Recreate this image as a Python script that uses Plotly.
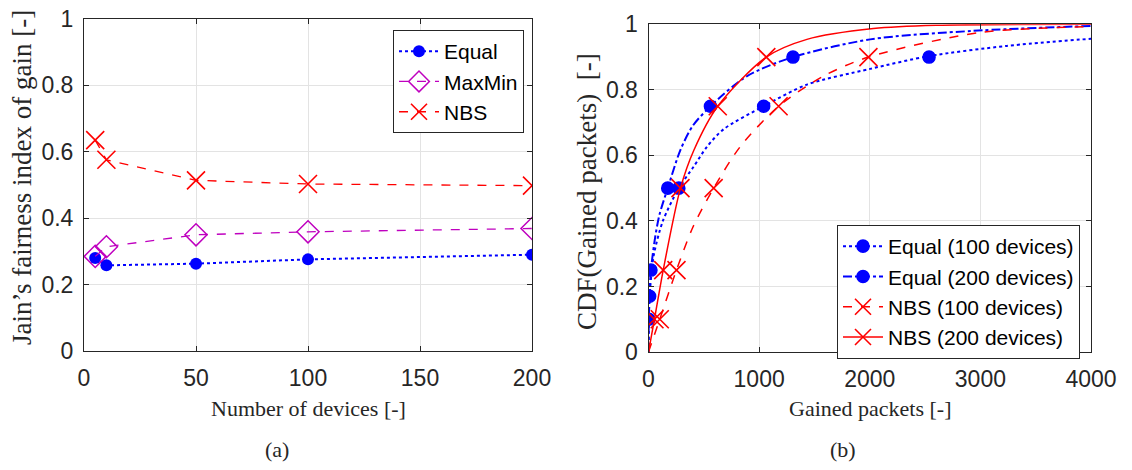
import plotly.graph_objects as go

# ---------------- data: panel (a) ----------------
devices = [5, 10, 50, 100, 200]
fair_equal = [0.280, 0.258, 0.263, 0.276, 0.290]
fair_maxmin = [0.285, 0.314, 0.350, 0.359, 0.369]
fair_nbs = [0.635, 0.576, 0.514, 0.503, 0.498]

# ---------------- data: panel (b) ----------------
# curves (gained packets, CDF)
eq100_x = [0, 4, 10, 30, 50, 130, 274, 409, 530, 680, 1041, 1432, 2004, 2536, 3237, 4000]
eq100_y = [0, 0.10, 0.17, 0.25, 0.30, 0.40, 0.50, 0.566, 0.627, 0.680, 0.75, 0.816, 0.864, 0.903, 0.934, 0.956]
eq200_x = [0, 3, 8, 22, 60, 100, 174, 289, 400, 560, 891, 1306, 2004, 2936, 4000]
eq200_y = [0, 0.10, 0.17, 0.25, 0.35, 0.42, 0.50, 0.617, 0.69, 0.75, 0.842, 0.90, 0.954, 0.980, 0.995]
nbs100_x = [0, 102, 253, 400, 589, 830, 1176, 1582, 1988, 3000, 4000]
nbs100_y = [0, 0.10, 0.25, 0.38, 0.50, 0.627, 0.75, 0.842, 0.90, 0.975, 0.993]
nbs200_x = [0, 54, 133, 289, 409, 626, 1065, 1432, 2034, 2600, 4000]
nbs200_y = [0, 0.10, 0.25, 0.50, 0.615, 0.75, 0.90, 0.954, 0.987, 0.997, 1.0]

# marker positions
eq100_mx = [10, 274, 1041, 2536]
eq100_my = [0.17, 0.50, 0.75, 0.90]
eq200_mx = [3, 22, 174, 560, 1306]
eq200_my = [0.10, 0.25, 0.50, 0.75, 0.90]
nbs100_mx = [102, 253, 589, 1176, 1988]
nbs100_my = [0.10, 0.25, 0.50, 0.75, 0.90]
nbs200_mx = [54, 133, 289, 626, 1065]
nbs200_my = [0.10, 0.25, 0.50, 0.75, 0.90]

BLUE = "#0000ff"
RED = "#ff0000"
MAG = "#bf00bf"
AX = "#262626"
GRID = "#e3e3e3"
SANS = "Liberation Sans, Arial, sans-serif"
SERIF = "Liberation Serif, Times New Roman, serif"

W, H = 1132, 470
fig = go.Figure()

# ---- panel (a) ----
fig.add_trace(go.Scatter(x=devices, y=fair_equal, name="Equal", mode="lines+markers",
                         line=dict(color=BLUE, width=2, dash="dot"),
                         marker=dict(symbol="circle", size=12, color=BLUE),
                         xaxis="x", yaxis="y", legend="legend"))
fig.add_trace(go.Scatter(x=devices, y=fair_maxmin, name="MaxMin", mode="lines+markers",
                         line=dict(color=MAG, width=1.3, dash="dash"),
                         marker=dict(symbol="diamond-open", size=17, color=MAG, line=dict(width=1.5)),
                         xaxis="x", yaxis="y", legend="legend"))
fig.add_trace(go.Scatter(x=devices, y=fair_nbs, name="NBS", mode="lines+markers",
                         line=dict(color=RED, width=1.3, dash="dash"),
                         marker=dict(symbol="x-thin-open", size=18, color=RED, line=dict(width=1.6, color=RED)),
                         xaxis="x", yaxis="y", legend="legend"))

# ---- panel (b) ----
series = [
    ("Equal (100 devices)", eq100_x, eq100_y, eq100_mx, eq100_my, BLUE, "dot", 2, "circle", 12),
    ("Equal (200 devices)", eq200_x, eq200_y, eq200_mx, eq200_my, BLUE, "dashdot", 2, "circle", 12),
    ("NBS (100 devices)", nbs100_x, nbs100_y, nbs100_mx, nbs100_my, RED, "dash", 1.5, "x-thin-open", 18),
    ("NBS (200 devices)", nbs200_x, nbs200_y, nbs200_mx, nbs200_my, RED, "solid", 1.5, "x-thin-open", 18),
]
for name, cx, cy, mx, my, col, dash, lw, sym, ms in series:
    mk = dict(symbol=sym, size=ms, color=col, line=dict(width=1.6, color=col))
    fig.add_trace(go.Scatter(x=cx, y=cy, mode="lines", showlegend=False,
                             line=dict(color=col, width=lw, dash=dash, shape="spline", smoothing=0.8),
                             xaxis="x2", yaxis="y2", hoverinfo="skip"))
    fig.add_trace(go.Scatter(x=mx, y=my, mode="markers", showlegend=False, marker=mk,
                             xaxis="x2", yaxis="y2"))
    fig.add_trace(go.Scatter(x=[None], y=[None], mode="lines+markers", name=name,
                             line=dict(color=col, width=lw, dash=dash), marker=mk,
                             xaxis="x2", yaxis="y2", legend="legend2"))

def px_x(p):
    return p / W

def px_y(p):
    return 1 - p / H

axis_common = dict(showline=True, linecolor=AX, linewidth=1, mirror="ticks",
                   ticks="inside", ticklen=5, tickcolor=AX, showgrid=True, gridcolor=GRID,
                   gridwidth=1, zeroline=False, tickfont=dict(family=SANS, size=23, color=AX),
                   exponentformat="none", separatethousands=False, automargin=False)

fig.update_layout(
    width=W, height=H, autosize=False,
    margin=dict(l=0, r=0, t=0, b=0, pad=0),
    paper_bgcolor="white", plot_bgcolor="white",
    xaxis=dict(domain=[px_x(84), px_x(532)], range=[0, 200], dtick=50, anchor="y",
               ticklabelstandoff=6, **axis_common),
    yaxis=dict(domain=[px_y(351), px_y(19)], range=[0, 1], dtick=0.2, anchor="x",
               ticklabelstandoff=5, **axis_common),
    xaxis2=dict(domain=[px_x(648.5), px_x(1091)], range=[0, 4000], dtick=1000, anchor="y2",
                ticklabelstandoff=6, **axis_common),
    yaxis2=dict(domain=[px_y(352), px_y(24.3)], range=[0, 1], dtick=0.2, anchor="x2",
                ticklabelstandoff=5, **axis_common),
    legend=dict(x=px_x(524), y=px_y(30), xanchor="right", yanchor="top",
                bgcolor="white", bordercolor=AX, borderwidth=1, itemwidth=40,
                font=dict(family=SANS, size=21, color="black"), tracegroupgap=0),
    legend2=dict(x=px_x(1080), y=px_y(225), xanchor="right", yanchor="top",
                 bgcolor="white", bordercolor=AX, borderwidth=1, itemwidth=40,
                 font=dict(family=SANS, size=21, color="black"), tracegroupgap=0),
    showlegend=True,
)

ann = [
    dict(text="Number of devices [-]", x=px_x(308), y=px_y(408), size=22, angle=0),
    dict(text="Gained packets [-]", x=px_x(870), y=px_y(408), size=22, angle=0),
    dict(text="(a)", x=px_x(277), y=px_y(449), size=22, angle=0),
    dict(text="(b)", x=px_x(843), y=px_y(449), size=22, angle=0),
    dict(text="Jain\u2019s fairness index of gain [-]", x=px_x(22), y=px_y(178), size=27, angle=-90),
    dict(text="CDF(Gained packets)\u2002[-]", x=px_x(587), y=px_y(192), size=27, angle=-90),
]
for a in ann:
    fig.add_annotation(text=a["text"], x=a["x"], y=a["y"], xref="paper", yref="paper",
                       xanchor="center", yanchor="middle", showarrow=False, textangle=a["angle"],
                       font=dict(family=SERIF, size=a["size"], color=AX))

fig.write_html("out.html", config={"displayModeBar": False},
               post_script="document.body.style.margin='0';document.body.style.overflow='hidden';")
